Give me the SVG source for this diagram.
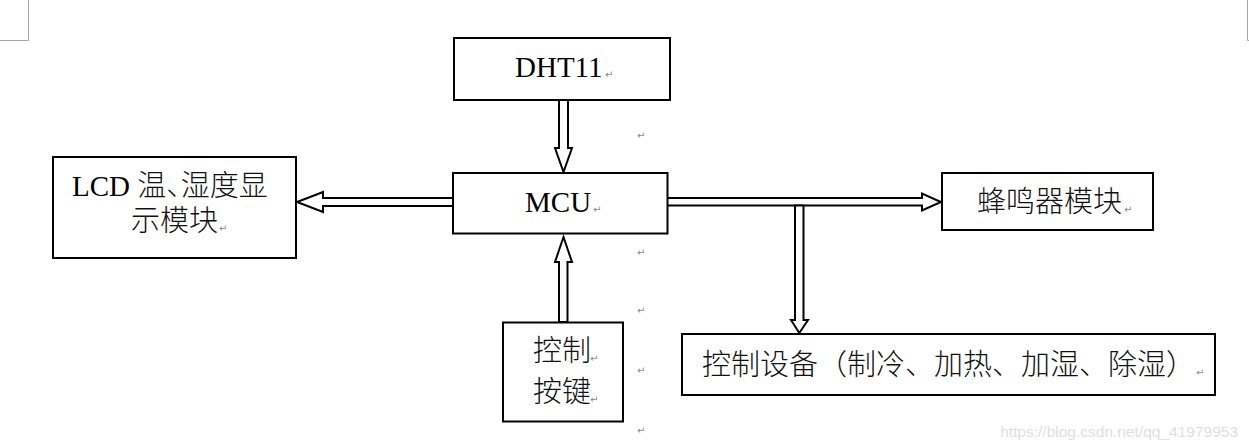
<svg xmlns="http://www.w3.org/2000/svg" width="1249" height="448" viewBox="0 0 1249 448">
<style>
.box{fill:#fff;stroke:#000;stroke-width:2}
.arr{fill:#fff;stroke:#000;stroke-width:2;stroke-linejoin:miter}
.lat{font-family:"Liberation Serif","Noto Sans CJK SC",serif;font-size:29px;fill:#000}
.cjk{font-family:"Noto Sans CJK SC","Liberation Serif",sans-serif;font-size:29px;fill:#111;font-weight:300}
.half{font-feature-settings:"halt"}
.rm{font-family:"DejaVu Sans",sans-serif;font-size:10px;fill:#888}
.mark{stroke:#a6a6a6;stroke-width:1;fill:none}
</style>
<rect width="1249" height="448" fill="#fff"/>
<path class="mark" d="M28.5,0 V40.5 H0 M1247.5,0 V40.5 H1249"/>
<g id="connectors">
<polygon class="arr" points="559,100 559,148 555,148 563.5,172 572,148 568,148 568,100"/>
<polygon class="arr" points="453,198 323,198 323,192 297,202 323,212 323,206 453,206"/>
<polygon class="arr" points="667,198 922,198 922,193.5 941,202 922,210.5 922,205.5 667,205.5"/>
<polygon class="arr" points="795,205.5 795,320 791,320 799.3,333 808,320 803.5,320 803.5,205.5"/>
<polygon class="arr" points="559,322 559,262 555,262 563.5,237 572,262 567.5,262 567.5,322"/>
</g>
<g id="dht11">
<rect class="box" x="454" y="38" width="216" height="62"/>
<text class="lat" x="515" y="77">DHT11</text><text class="rm" x="605" y="78">↵</text>
</g>
<g id="mcu">
<rect class="box" x="453" y="173" width="214.5" height="60.5"/>
<text class="lat" x="525" y="212">MCU</text><text class="rm" x="593" y="213">↵</text>
</g>
<g id="lcd">
<rect class="box" x="53" y="157" width="243" height="101"/>
<text class="lat" x="72" y="196">LCD <tspan class="cjk half">温、湿度显</tspan></text>
<text class="cjk" x="131" y="231">示模块</text><text class="rm" x="219" y="232">↵</text>
</g>
<g id="buzzer">
<rect class="box" x="942" y="173" width="211" height="57"/>
<text class="cjk" x="977" y="212">蜂鸣器模块</text><text class="rm" x="1124" y="213">↵</text>
</g>
<g id="keys">
<rect class="box" x="503" y="322.5" width="120" height="99"/>
<text class="cjk" x="533" y="361">控制</text><text class="rm" x="590" y="362">↵</text>
<text class="cjk" x="533" y="402">按键</text><text class="rm" x="590" y="403">↵</text>
</g>
<g id="devices">
<rect class="box" x="682" y="334" width="533" height="61"/>
<text class="cjk" x="702" y="375">控制设备（制冷、加热、加湿、除湿）</text><text class="rm" x="1196" y="376">↵</text>
</g>
<g id="marks">
<text class="rm" x="637" y="139">↵</text>
<text class="rm" x="637" y="256">↵</text>
<text class="rm" x="637" y="314">↵</text>
<text class="rm" x="637" y="374">↵</text>
<text class="rm" x="637" y="434">↵</text>
</g>
<text x="1238" y="437" text-anchor="end" font-family="Liberation Sans, sans-serif" font-size="15.5" fill="#dedede">https://blog.csdn.net/qq_41979953</text>
</svg>
